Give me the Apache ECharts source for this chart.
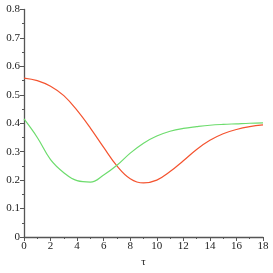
<!DOCTYPE html>
<html><head><meta charset="utf-8">
<script src="https://cdn.jsdelivr.net/npm/echarts@6/dist/echarts.min.js"></script>
<style>html,body{margin:0;padding:0;background:#fff}#c{width:273px;height:273px}</style>
</head><body><div id="c"></div>
<script>
var tau = [0,1,2,3,4,5,6,7,8,9,10,11,12,13,14,15,16,17,18];
var redSeries = [0.559,0.550,0.530,0.497,0.445,0.383,0.315,0.250,0.205,0.190,0.200,0.230,0.268,0.308,0.340,0.363,0.378,0.388,0.394];
var greenSeries = [0.415,0.350,0.272,0.226,0.198,0.193,0.218,0.252,0.295,0.330,0.355,0.372,0.382,0.388,0.393,0.396,0.398,0.400,0.401];
function pairs(xs, ys){return xs.map(function(x,i){return [x, ys[i]];});}
var chart = echarts.init(document.getElementById('c'), null, {renderer:'canvas'});
var font = 'Liberation Serif';
chart.setOption({
  animation:false,
  grid:{left:24,right:10,top:9.5,bottom:31},
  xAxis:{type:'value',min:0,max:18,interval:2,name:'τ',nameLocation:'middle',nameGap:20,
    nameTextStyle:{fontFamily:font,fontSize:11,color:'#222'},
    axisLine:{lineStyle:{color:'#555',width:1.3}},
    axisTick:{length:4,lineStyle:{color:'#555'}},
    minorTick:{show:true,splitNumber:2,length:2,lineStyle:{color:'#555'}},
    splitLine:{show:false},
    axisLabel:{fontFamily:font,fontSize:11,color:'#222',margin:4}},
  yAxis:{type:'value',min:0,max:0.8,interval:0.1,
    axisLine:{show:true,lineStyle:{color:'#555',width:1.3}},
    axisTick:{show:true,length:4,lineStyle:{color:'#555'}},
    minorTick:{show:true,splitNumber:2,length:2,lineStyle:{color:'#555'}},
    splitLine:{show:false},
    axisLabel:{fontFamily:font,fontSize:11,color:'#222',margin:4,
      formatter:function(v){return v===0?'0':v.toFixed(1);}}},
  series:[
    {type:'line',data:pairs(tau,redSeries),smooth:0.4,showSymbol:false,lineStyle:{color:'#f4532f',width:1.2}},
    {type:'line',data:pairs(tau,greenSeries),smooth:0.4,showSymbol:false,lineStyle:{color:'#6ddc6d',width:1.2}}
  ]
});
</script></body></html>
